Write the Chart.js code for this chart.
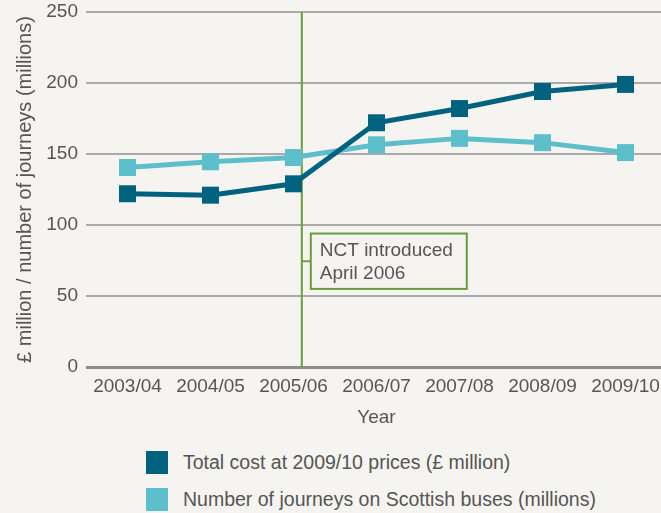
<!DOCTYPE html>
<html>
<head>
  <title>Bus costs and journeys</title>
  <script src="https://cdn.jsdelivr.net/npm/chart.js"></script>
  <style>
    body {
      margin: 0;
      width: 661px;
      height: 513px;
      overflow: hidden;
      position: relative;
      background-color: #f5f4f0;
      font-family: "Liberation Sans", Arial, sans-serif;
    }

    #busChart {
      position: absolute;
      left: 0;
      top: 0;
    }

    .legend {
      position: absolute;
      left: 146px;
      top: 451px;
      color: #555;
      font-size: 19.5px;
    }

    .legend-item {
      display: flex;
      align-items: center;
      height: 23px;
      margin-bottom: 14px;
    }

    .legend-box {
      width: 22px;
      height: 23px;
      margin-right: 15px;
    }
  </style>
</head>
<body>
  <canvas id="busChart" width="679" height="440"></canvas>
  <div class="legend" id="legend"></div>

  <script>
    const years = ['2003/04', '2004/05', '2005/06', '2006/07', '2007/08', '2008/09', '2009/10'];
    const totalCost = [122, 121, 129, 172, 182, 194, 199];
    const journeys = [140.5, 144.5, 147.5, 156.5, 161, 158, 151];
    const yTicks = [0, 50, 100, 150, 200, 250];

    // NCT marker sits a little after the 2005/06 point (April 2006)
    const nctYear = '2005/06';
    const nctOffset = 0.1;
    const nctText = ['NCT introduced', 'April 2006'];

    const textGrey = '#555';
    const font = { family: '"Liberation Sans", Arial, sans-serif', size: 19 };

    const nctLine = {
      id: 'nctLine',
      beforeDatasetsDraw(chart) {
        const { ctx, chartArea, scales: { x, y } } = chart;
        const i = years.indexOf(nctYear);
        const px = x.getPixelForValue(i) + nctOffset * (x.getPixelForValue(i + 1) - x.getPixelForValue(i));
        const top = y.getPixelForValue(94);
        const bottom = y.getPixelForValue(55);
        const mid = (top + bottom) / 2;

        ctx.save();
        ctx.strokeStyle = '#6b9e3a';
        ctx.lineWidth = 2;
        ctx.beginPath();
        ctx.moveTo(px, chartArea.top);
        ctx.lineTo(px, chartArea.bottom);
        ctx.moveTo(px, mid);
        ctx.lineTo(px + 9, mid);
        ctx.stroke();

        ctx.fillStyle = '#f5f4f0';
        ctx.fillRect(px + 9, top, 156, bottom - top);
        ctx.strokeRect(px + 9, top, 156, bottom - top);

        ctx.fillStyle = textGrey;
        ctx.font = '19px "Liberation Sans", Arial, sans-serif';
        ctx.textBaseline = 'alphabetic';
        ctx.fillText(nctText[0], px + 18, top + 22);
        ctx.fillText(nctText[1], px + 18, top + 45);
        ctx.restore();
      }
    };

    const chart = new Chart(document.getElementById('busChart'), {
      type: 'line',
      data: {
        labels: years,
        datasets: [{
          label: 'Total cost at 2009/10 prices (£ million)',
          data: totalCost,
          borderColor: '#00627f',
          backgroundColor: '#00627f',
          borderWidth: 5,
          pointStyle: 'rect',
          pointRadius: 12,
          pointHoverRadius: 12,
          pointBorderWidth: 0
        }, {
          label: 'Number of journeys on Scottish buses (millions)',
          data: journeys,
          borderColor: '#5ebfcc',
          backgroundColor: '#5ebfcc',
          borderWidth: 5,
          pointStyle: 'rect',
          pointRadius: 12,
          pointHoverRadius: 12,
          pointBorderWidth: 0
        }]
      },
      options: {
        responsive: false,
        animation: false,
        layout: { padding: 0 },
        plugins: {
          legend: { display: false },
          tooltip: { enabled: false }
        },
        scales: {
          x: {
            offset: true,
            grid: { display: false, drawTicks: false, offset: true },
            border: { display: false },
            ticks: { color: textGrey, font: font, padding: 8, maxRotation: 0, autoSkip: false },
            title: { display: true, text: 'Year', color: textGrey, font: font, padding: { top: 0, bottom: 11 } },
            afterFit: (s) => {
              s.height = 73;
              s.paddingLeft = 0;
              s.paddingRight = 0;
            }
          },
          y: {
            min: 0,
            max: 250,
            afterBuildTicks: (s) => { s.ticks = yTicks.map(v => ({ value: v })); },
            grid: {
              drawTicks: false,
              color: (c) => c.tick && c.tick.value === 0 ? '#8c8c8c' : '#aaaaaa',
              lineWidth: (c) => c.tick && c.tick.value === 0 ? 3 : 2
            },
            border: { display: false },
            ticks: { color: textGrey, font: font, padding: 8 },
            title: {
              display: true,
              text: '£ million / number of journeys (millions)',
              color: textGrey,
              font: { family: font.family, size: 20 },
              padding: { top: 13, bottom: 0 }
            },
            afterFit: (s) => {
              s.width = 86;
              s.paddingTop = 11;
              s.paddingBottom = 0;
            }
          }
        }
      },
      plugins: [nctLine]
    });

    // legend as a plain list under the chart
    const legend = document.getElementById('legend');
    chart.data.datasets.forEach(ds => {
      const item = document.createElement('div');
      item.className = 'legend-item';
      const box = document.createElement('span');
      box.className = 'legend-box';
      box.style.background = ds.backgroundColor;
      const label = document.createElement('span');
      label.textContent = ds.label;
      item.appendChild(box);
      item.appendChild(label);
      legend.appendChild(item);
    });
  </script>
</body>
</html>
